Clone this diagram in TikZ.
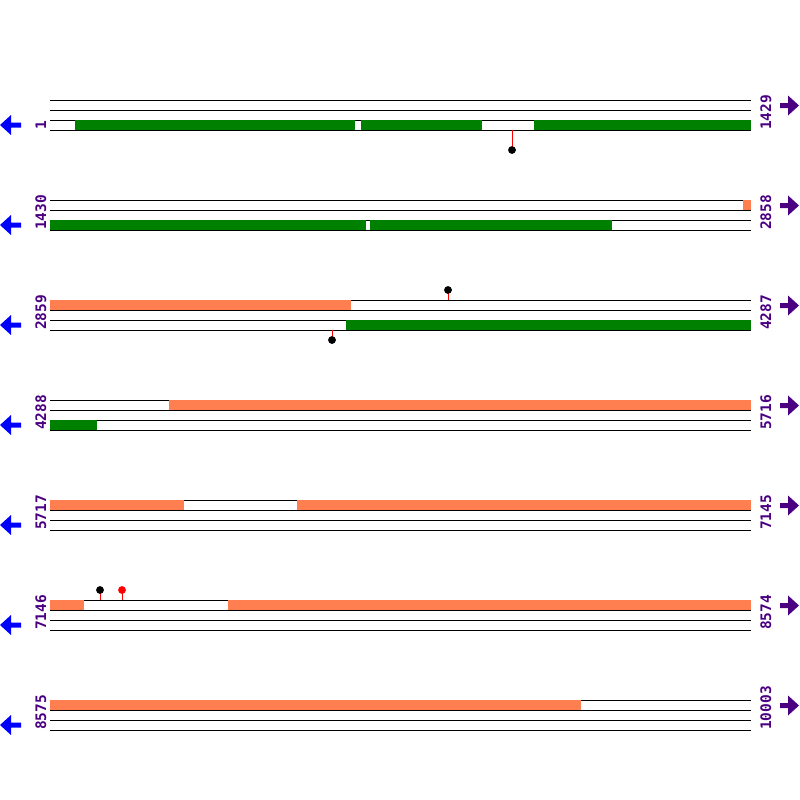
\documentclass[tikz,border=0pt]{standalone}
\usepackage{fontspec}
\newfontfamily\labfont{DejaVu Sans Mono}
\definecolor{lab}{RGB}{75,0,130}
\definecolor{gr}{RGB}{0,128,0}
\definecolor{co}{RGB}{255,127,80}
\definecolor{bl}{RGB}{0,0,255}
\tikzset{
  track/.style={black,line width=1pt},
  grbox/.style={fill=gr,draw=none},
  cobox/.style={fill=co,draw=none},
  poslab/.style={rotate=90,anchor=base west,inner sep=0pt,text=lab,font=\labfont\bfseries\fontsize{14.5}{16}\selectfont},
  larrow/.style={fill=bl,draw=none},
  rarrow/.style={fill=lab,draw=none},
  blackdot/.style={circle,fill=black,inner sep=0pt,minimum size=7.5pt},
  reddot/.style={circle,fill=red,inner sep=0pt,minimum size=7.5pt},
  stem/.style={red,line width=1pt}
}
\begin{document}
\begin{tikzpicture}[x=1pt,y=-1pt]
\useasboundingbox[fill=white] (0,0) rectangle (800,800);
% rows
\foreach \r/\a/\b [count=\i from 0] in {1/1/1429,2/1430/2858,3/2859/4287,4/4288/5716,5/5717/7145,6/7146/8574,7/8575/10003}{
  \pgfmathsetmacro{\yo}{100*\r}
  \foreach \d in {0,10,20,30}{
    \draw[track] (50,\yo+\d) -- (751,\yo+\d);
  }
  \node[poslab] (L\r) at (46,\yo+30) {\a};
  \node[poslab] (R\r) at (771,\yo+30) {\b};
  \fill[larrow] (0,\yo+25) -- (11,\yo+15) -- (11,\yo+22.5) -- (21,\yo+22.5) -- (21,\yo+27.5) -- (11,\yo+27.5) -- (11,\yo+35) -- cycle;
  \fill[rarrow] (799,\yo+5.5) -- (788,\yo-4.5) -- (788,\yo+3) -- (780,\yo+3) -- (780,\yo+8) -- (788,\yo+8) -- (788,\yo+15.5) -- cycle;
}
% row 1
\fill[grbox] (75,120) rectangle (355,130);
\fill[grbox] (361,120) rectangle (482,130);
\fill[grbox] (534,120) rectangle (751,130);
\coordinate (s1) at (512,130);
\node[blackdot] (d1) at (512,150) {};
\draw[stem] (s1) -- (d1.center);
\node[blackdot] at (512,150) {};
% row 2
\fill[cobox] (743,200) rectangle (751,210);
\fill[grbox] (50,220) rectangle (366,230);
\fill[grbox] (370,220) rectangle (612,230);
% row 3
\fill[cobox] (50,300) rectangle (351,310);
\fill[grbox] (346,320) rectangle (751,330);
\coordinate (s2) at (448,300);
\node[blackdot] (d2) at (448,290) {};
\draw[stem] (s2) -- (d2.center);
\node[blackdot] at (448,290) {};
\coordinate (s3) at (332,330);
\node[blackdot] (d3) at (332,340) {};
\draw[stem] (s3) -- (d3.center);
\node[blackdot] at (332,340) {};
% row 4
\fill[cobox] (169,400) rectangle (751,410);
\fill[grbox] (50,420) rectangle (97,430);
% row 5
\fill[cobox] (50,500) rectangle (184,510);
\fill[cobox] (297,500) rectangle (751,510);
% row 6
\fill[cobox] (50,600) rectangle (84,610);
\fill[cobox] (228,600) rectangle (751,610);
\coordinate (s4) at (100,600);
\node[blackdot] (d4) at (100,590) {};
\draw[stem] (s4) -- (d4.center);
\node[blackdot] at (100,590) {};
\coordinate (s5) at (122,600);
\node[reddot] (d5) at (122,590) {};
\draw[stem] (s5) -- (d5.center);
\node[reddot] at (122,590) {};
% row 7
\fill[cobox] (50,700) rectangle (581,710);
\end{tikzpicture}
\end{document}
